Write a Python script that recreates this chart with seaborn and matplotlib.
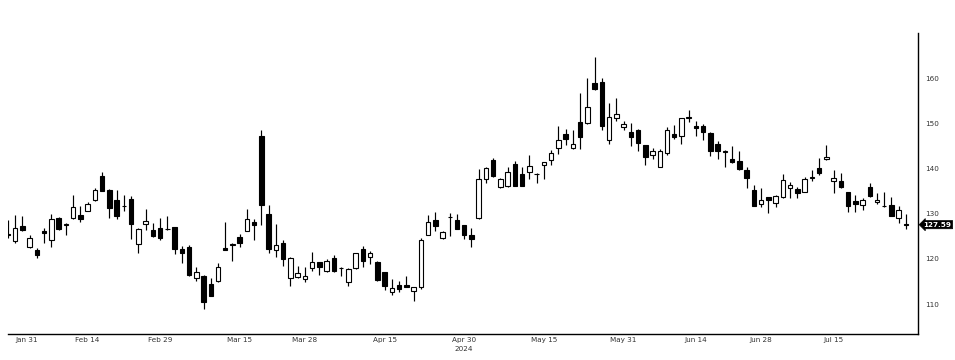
import numpy as np
import pandas as pd
import matplotlib
matplotlib.use("Agg")
import matplotlib.pyplot as plt
import seaborn as sns

# ---- data: daily OHLC, trading days 2024-01-30 .. 2024-07-29 ----
dates = pd.bdate_range("2024-01-30", "2024-07-29")
holidays = pd.to_datetime(["2024-02-19", "2024-03-29", "2024-05-27", "2024-06-19", "2024-07-04"])
dates = dates[~dates.isin(holidays)]

opens = [125.5, 124.0, 127.3, 122.6, 122.0, 126.3, 124.1, 129.0, 127.6, 129.0,
         129.8, 130.7, 133.1, 138.4, 135.3, 133.1, 131.7, 133.2, 123.3, 127.8,
         126.5, 126.8, 126.6, 127.0, 122.2, 122.6, 115.7, 116.3, 114.5, 115.2,
         122.4, 123.2, 124.8, 126.2, 128.2, 147.2, 130.0, 121.9, 123.5, 115.7,
         116.1, 115.5, 118.0, 119.3, 117.4, 120.3, 118.0, 114.9, 118.0, 122.2,
         120.5, 119.4, 117.1, 112.6, 114.3, 114.3, 113.0, 113.9, 125.3, 128.65,
         124.7, 129.3, 128.65, 127.5, 125.3, 129.0, 137.65, 141.9, 136.0, 136.2,
         141.0, 138.8, 139.3, 138.7, 140.75, 141.8, 144.6, 147.7, 144.65, 150.4,
         150.0, 159.0, 159.1, 146.35, 151.3, 149.1, 148.1, 148.6, 145.25, 142.9,
         140.45, 143.4, 147.7, 147.1, 151.3, 149.4, 149.4, 147.8, 145.5, 143.7,
         142.15, 141.7, 139.7, 135.3, 132.1, 133.7, 132.3, 133.7, 135.7, 135.5,
         134.9, 138.0, 140.1, 142.1, 137.3, 137.3, 134.8, 132.85, 132.0, 135.9,
         132.6, 131.7, 132.0, 129.0, 127.7]
highs = [128.7, 129.8, 129.4, 125.3, 122.4, 126.8, 130.0, 129.2, 127.9, 134.2,
         131.7, 132.5, 135.7, 139.3, 135.4, 135.3, 134.1, 134.0, 126.8, 131.0,
         127.9, 129.0, 129.4, 127.1, 122.9, 123.0, 118.2, 116.4, 115.8, 119.2,
         128.1, 123.6, 125.6, 131.0, 128.8, 148.6, 132.0, 127.8, 124.2, 120.5,
         118.5, 118.3, 121.6, 119.4, 120.0, 120.9, 118.3, 118.0, 121.4, 122.9,
         121.8, 119.6, 117.2, 115.5, 115.2, 116.3, 113.9, 124.7, 129.8, 130.4,
         126.2, 130.1, 130.0, 127.6, 126.8, 139.9, 140.4, 142.3, 137.9, 140.4,
         141.7, 140.4, 143.0, 139.1, 141.5, 144.1, 149.4, 148.8, 148.6, 156.8,
         160.0, 164.8, 160.0, 154.5, 155.6, 150.6, 150.0, 148.8, 145.3, 144.65,
         144.3, 149.2, 149.7, 151.2, 153.0, 150.6, 149.9, 148.0, 146.0, 144.1,
         145.1, 143.8, 140.45, 136.4, 135.7, 133.8, 134.2, 138.8, 137.1, 135.9,
         138.2, 139.7, 142.3, 145.2, 139.7, 139.1, 134.9, 134.2, 133.45, 136.9,
         134.7, 134.9, 133.7, 131.75, 129.9]
lows = [124.6, 123.6, 126.1, 122.5, 120.3, 123.5, 122.6, 126.4, 125.3, 128.8,
        128.1, 130.6, 132.9, 135.0, 129.0, 128.9, 130.7, 124.4, 121.4, 126.4,
        124.8, 124.1, 126.4, 121.1, 119.1, 116.3, 115.2, 108.9, 111.7, 114.9,
        121.9, 119.6, 122.6, 126.1, 124.2, 127.5, 121.4, 120.4, 118.5, 114.1,
        115.8, 115.0, 117.4, 116.5, 117.2, 117.2, 116.3, 114.1, 117.8, 118.3,
        118.9, 115.2, 113.2, 112.1, 112.6, 113.7, 110.8, 113.4, 125.2, 126.1,
        124.4, 125.0, 126.6, 124.4, 122.6, 128.9, 136.8, 138.2, 135.7, 136.0,
        136.1, 136.1, 137.7, 136.9, 137.7, 140.8, 143.25, 145.2, 144.4, 144.3,
        149.9, 157.4, 148.6, 145.5, 150.6, 148.6, 144.9, 144.0, 140.8, 142.1,
        140.4, 143.0, 146.6, 145.5, 150.4, 147.1, 146.35, 142.8, 142.15, 140.45,
        141.2, 139.7, 135.7, 131.7, 131.6, 130.1, 131.6, 133.5, 133.5, 133.5,
        134.8, 137.3, 138.6, 142.0, 134.55, 135.8, 130.3, 130.3, 130.9, 133.8,
        132.2, 131.5, 129.5, 127.9, 126.6]
closes = [125.2, 126.8, 126.4, 124.6, 120.9, 125.7, 128.8, 126.6, 127.7, 131.5,
          128.9, 132.2, 135.3, 135.1, 131.2, 129.6, 131.8, 127.8, 126.6, 128.4,
          125.0, 124.6, 126.7, 122.2, 121.3, 116.5, 117.2, 110.4, 111.9, 118.2,
          122.0, 123.3, 123.6, 128.8, 127.6, 132.0, 122.3, 123.1, 120.0, 120.3,
          116.9, 116.3, 119.3, 118.2, 119.6, 117.4, 118.1, 117.7, 121.3, 119.65,
          121.4, 115.4, 114.1, 113.5, 113.4, 113.8, 113.7, 124.2, 128.1, 127.4,
          125.9, 129.2, 126.7, 125.2, 124.5, 137.65, 140.1, 138.45, 137.65, 139.2,
          136.2, 136.2, 140.6, 138.8, 141.4, 143.4, 146.3, 146.6, 145.4, 146.9,
          153.6, 157.6, 149.5, 151.4, 152.0, 149.8, 146.9, 145.75, 142.65, 143.9,
          143.9, 148.6, 146.9, 151.15, 151.4, 148.9, 148.2, 144.0, 144.0, 143.8,
          141.4, 139.9, 138.0, 131.8, 133.1, 133.1, 133.9, 137.5, 136.4, 134.55,
          137.65, 138.1, 139.1, 142.65, 137.9, 135.9, 131.8, 132.1, 133.1, 134.0,
          133.1, 131.8, 129.6, 130.9, 127.59]

major_labels = ["Jan 31", "Feb 14", "Feb 29", "Mar 15", "Mar 28", "Apr 15", "Apr 30",
                "May 15", "May 31", "Jun 14", "Jun 28", "Jul 15"]
major_dates = pd.to_datetime(["2024-01-31", "2024-02-14", "2024-02-29", "2024-03-15",
                              "2024-03-28", "2024-04-15", "2024-04-30", "2024-05-15",
                              "2024-05-31", "2024-06-14", "2024-06-28", "2024-07-15"])
minor_dates = pd.to_datetime(["2024-02-07", "2024-02-21", "2024-03-07", "2024-03-22",
                              "2024-04-08", "2024-04-22", "2024-05-08", "2024-05-23",
                              "2024-06-07", "2024-06-21", "2024-07-08", "2024-07-23"])
year_label = "2024"
y_major = [110, 120, 130, 140, 150, 160]
y_minor = [105, 115, 125, 135, 145, 155, 165, 170]
last_price_label = "127.59"

df = pd.DataFrame({"date": dates, "open": opens, "high": highs, "low": lows, "close": closes})
df["x"] = np.arange(len(df))
df["up"] = df["close"] >= df["open"]

# ---- figure ----
sns.set_theme(style="white")
plt.rcParams["font.family"] = ["DejaVu Sans"]
fig = plt.figure(figsize=(9.55, 3.6), dpi=100)
ax = fig.add_axes([8 / 955, 26 / 360, 910 / 955, 301 / 360])

# wicks
ax.vlines(df["x"], df["low"], df["high"], color="black", linewidth=0.85, zorder=1)
# bodies
body_bottom = np.minimum(df["open"], df["close"])
body_h = np.maximum(np.abs(df["close"] - df["open"]), 0.04)
face = np.where(df["up"], "white", "black")
ax.bar(df["x"], body_h, bottom=body_bottom, width=0.62, color=face,
       edgecolor="black", linewidth=0.8, zorder=2)

ax.set_xlim(0, 125.66)
ax.set_ylim(103.4, 170.0)

pos = {d: i for i, d in enumerate(df["date"])}
ax.set_xticks([pos[d] for d in major_dates])
ax.set_xticklabels(major_labels)
ax.set_xticks([pos[d] for d in minor_dates], minor=True)

ax.yaxis.tick_right()
ax.set_yticks(y_major)
ax.set_yticklabels([str(v) for v in y_major])
ax.set_yticks(y_minor, minor=True)

sns.despine(ax=ax, left=True, top=True, right=False, bottom=False)
for s in ["right", "bottom"]:
    ax.spines[s].set_color("black")
    ax.spines[s].set_linewidth(1.0)

ax.tick_params(axis="x", which="both", direction="inout", length=4, width=0.8,
               colors="black", labelsize=5.2, pad=0.5, labelcolor="#333333")
ax.tick_params(axis="y", which="both", direction="out", length=3, width=0.8,
               colors="black", labelsize=5.2, pad=2, labelcolor="#333333")
ax.get_xticklabels()[0].set_horizontalalignment("left")
ax.get_xticklabels()[0].set_x(pos[major_dates[0]] - 0.4)

ax.annotate(year_label, xy=(pos[major_dates[6]], 0), xycoords=("data", "axes fraction"),
            xytext=(0, -10.5), textcoords="offset points", ha="center", va="center",
            fontsize=5.2, color="#333333", annotation_clip=False)

ax.grid(False)
ax.set_facecolor("white")

# last price tag
ax.annotate(last_price_label, xy=(1.0, closes[-1]), xycoords=("axes fraction", "data"),
            xytext=(4, 0), textcoords="offset points", ha="left", va="center",
            fontsize=5.2, color="white", fontweight="bold",
            bbox=dict(boxstyle="larrow,pad=0.15", fc="black", ec="black", lw=0.5),
            annotation_clip=False)

fig.savefig("out.png", dpi=100, facecolor="white")
